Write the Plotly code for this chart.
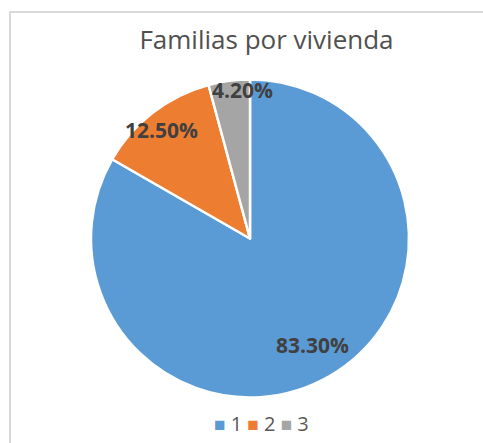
import math
import plotly.graph_objects as go

categories = ["1", "2", "3"]
values = [83.3, 12.5, 4.2]
label_texts = ["83.30%", "12.50%", "4.20%"]
colors = ["#5B9BD5", "#ED7D31", "#A5A5A5"]
title_text = "Familias por vivienda"

# style / layout (kept separate from data)
label_radius = [0.78, 0.88, 0.93]
label_nudge = [(0, -1), (-3, 2), (12, -2)]  # px
W, H = 483, 443
CX, CY, R = 250, 238.5, 159
FONT = "Open Sans"

fig = go.Figure(
    go.Pie(
        labels=categories,
        values=values,
        sort=False,
        direction="clockwise",
        rotation=0,
        marker=dict(colors=colors, line=dict(color="white", width=2.5)),
        textinfo="none",
        hoverinfo="label+percent",
        domain=dict(x=[(CX - R) / W, (CX + R) / W],
                    y=[(H - CY - R) / H, (H - CY + R) / H]),
        showlegend=False,
    )
)

total = sum(values)
cum = 0.0
annotations = []
for v, t, rf, (nx, ny) in zip(values, label_texts, label_radius, label_nudge):
    mid = (cum + v / 2) / total * 2 * math.pi
    cum += v
    px = CX + rf * R * math.sin(mid) + nx
    py = CY - rf * R * math.cos(mid) + ny
    annotations.append(dict(
        x=px / W, y=1 - py / H, xref="paper", yref="paper",
        text=f"<b>{t}</b>", showarrow=False,
        font=dict(family=FONT, size=21, color="#404040"),
        xanchor="center", yanchor="middle",
    ))

legend_text = " ".join(
    f'<span style="color:{c};font-size:19px">■</span> {cat}'
    for c, cat in zip(colors, categories)
)
annotations.append(dict(
    x=261 / W, y=1 - 423 / H, xref="paper", yref="paper",
    text=legend_text, showarrow=False,
    font=dict(family=FONT, size=20, color="#595959"),
    xanchor="center", yanchor="middle",
))

fig.update_layout(
    width=W, height=H,
    margin=dict(l=0, r=0, t=0, b=0),
    paper_bgcolor="white", plot_bgcolor="white",
    title=dict(text=title_text, x=266.5 / W, y=1 - 40 / H,
               xanchor="center", yanchor="middle",
               font=dict(family=FONT, size=26, color="#505050")),
    annotations=annotations,
    shapes=[dict(type="rect", xref="paper", yref="paper",
                 x0=10 / W, x1=1.3, y0=-0.3, y1=1 - 12 / H,
                 line=dict(color="#D9D9D9", width=2), fillcolor="rgba(0,0,0,0)")],
    showlegend=False,
)

fig.write_html("out.html", config={"displayModeBar": False})

# remove the default page margin so the figure sits at (0, 0)
with open("out.html", "r", encoding="utf-8") as f:
    html = f.read()
html = html.replace(
    "<head>",
    "<head><style>html,body{margin:0;padding:0;overflow:hidden;}</style>",
    1,
)
with open("out.html", "w", encoding="utf-8") as f:
    f.write(html)
